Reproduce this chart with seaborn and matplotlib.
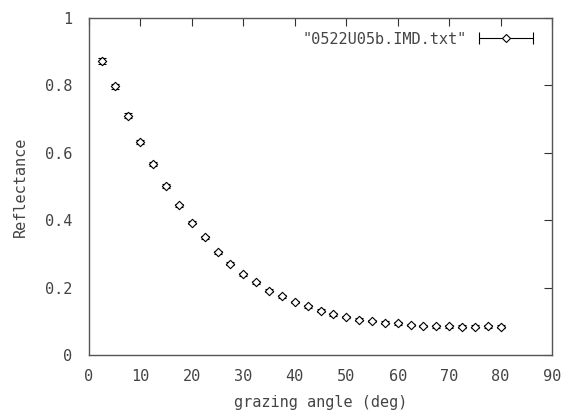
import matplotlib
matplotlib.use("Agg")
import matplotlib.pyplot as plt
import seaborn as sns
import numpy as np
import pandas as pd
from matplotlib.container import ErrorbarContainer
from matplotlib.legend_handler import HandlerErrorbar

angle = [2.5, 5, 7.5, 10, 12.5, 15, 17.5, 20, 22.5, 25, 27.5, 30, 32.5, 35, 37.5, 40,
         42.5, 45, 47.5, 50, 52.5, 55, 57.5, 60, 62.5, 65, 67.5, 70, 72.5, 75, 77.5, 80]
reflectance = [0.872, 0.797, 0.710, 0.632, 0.567, 0.502, 0.444, 0.393, 0.349, 0.305,
               0.271, 0.239, 0.216, 0.191, 0.174, 0.157, 0.144, 0.132, 0.121, 0.113,
               0.105, 0.101, 0.096, 0.094, 0.089, 0.086, 0.085, 0.085, 0.084, 0.084,
               0.085, 0.084]
err = [0.009, 0.008, 0.007, 0.007, 0.006, 0.006, 0.005, 0.005, 0.005, 0.004,
       0.004, 0.004, 0.004, 0.004, 0.004, 0.004, 0.004, 0.004, 0.004, 0.004,
       0.004, 0.004, 0.004, 0.004, 0.004, 0.004, 0.004, 0.004, 0.004, 0.004,
       0.004, 0.004]
xticks = [0, 10, 20, 30, 40, 50, 60, 70, 80, 90]
yticks = [0, 0.2, 0.4, 0.6, 0.8, 1]
ytick_labels = ["0", "0.2", "0.4", "0.6", "0.8", "1"]
legend_label = '"0522U05b.IMD.txt"'

df = pd.DataFrame({"angle": angle, "reflectance": reflectance, "err": err})

sns.set_style("white")
plt.rcParams["font.family"] = ["DejaVu Sans Mono"]
txt_color = "#444444"

fig = plt.figure(figsize=(5.70, 4.16), dpi=100)
ax = fig.add_axes([89/570, 1 - 355/416, (552 - 89)/570, (355 - 18)/416])

ax.errorbar(df["angle"], df["reflectance"], yerr=df["err"], fmt="none",
            ecolor="black", elinewidth=0.8, capsize=3, capthick=0.8, zorder=2)
sns.scatterplot(data=df, x="angle", y="reflectance", marker="D", s=18,
                facecolor="white", edgecolor="black", linewidth=0.8, ax=ax, zorder=3)

ax.set_xlim(0, 90)
ax.set_ylim(0, 1)
ax.set_xticks(xticks)
ax.set_xticklabels([str(t) for t in xticks])
ax.set_yticks(yticks)
ax.set_yticklabels(ytick_labels)
ax.tick_params(direction="in", length=6, width=0.8, top=True, right=True,
               colors="#333333", labelcolor=txt_color, labelsize=11)
ax.tick_params(axis="x", pad=10)
ax.tick_params(axis="y", pad=12)
for s in ax.spines.values():
    s.set_color("#555555")
    s.set_linewidth(1)
ax.set_xlabel("grazing angle (deg)", fontsize=11, color=txt_color, labelpad=8)
ax.set_ylabel("Reflectance", fontsize=11, color=txt_color, labelpad=12)

handle = ax.errorbar([np.nan], [np.nan], xerr=[1.0], fmt="D", mfc="white", mec="black",
                     ms=4, mew=0.8, ecolor="black", elinewidth=0.8, capsize=4,
                     capthick=0.8)
ax.legend([handle], [legend_label], loc="upper right", frameon=False, fontsize=11,
          markerfirst=False, handlelength=3.6, labelcolor=txt_color,
          handler_map={ErrorbarContainer: HandlerErrorbar(xerr_size=1.75)},
          bbox_to_anchor=(0.99, 1.0))

fig.savefig("out.png", dpi=100)
